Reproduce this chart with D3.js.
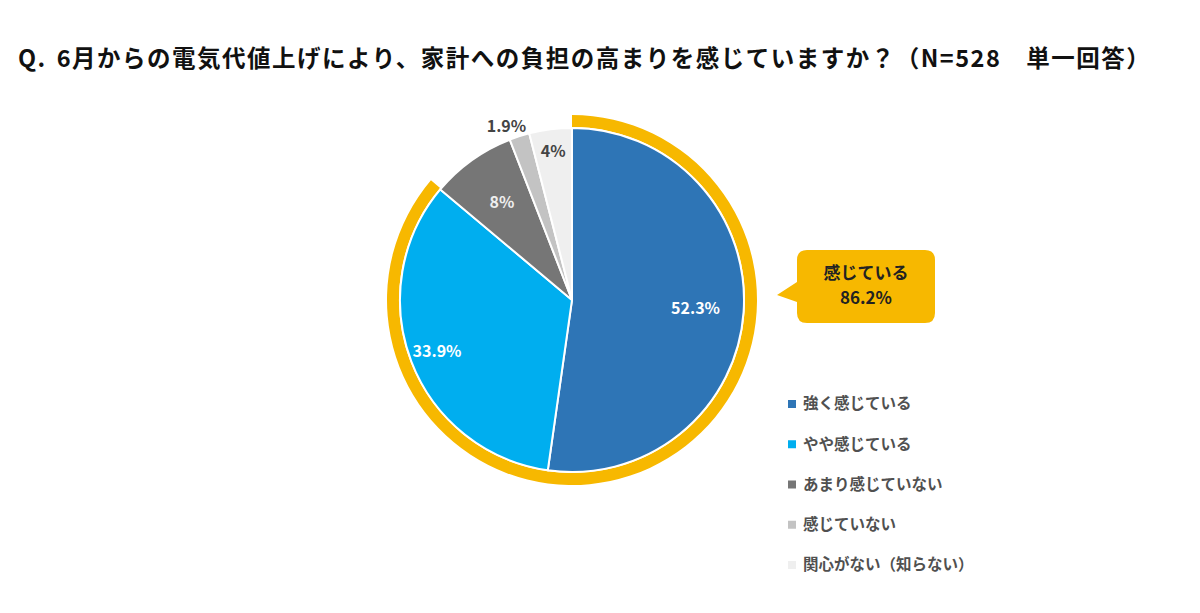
<!DOCTYPE html>
<html>
<head>
<meta charset="utf-8">
<title>電気代値上げアンケート</title>
<script src="https://d3js.org/d3.v7.min.js"></script>
<style>
  body { margin: 0; background: #fff; }
  svg text { font-family: "Noto Sans CJK JP", "Noto Sans", sans-serif; }
</style>
</head>
<body>
<svg id="chart" width="1200" height="613"></svg>
<script>
// データ
const categories = ["強く感じている", "やや感じている", "あまり感じていない", "感じていない", "関心がない（知らない）"];
const values = [52.3, 33.9, 8, 1.9, 4];
const labels = ["52.3%", "33.9%", "8%", "1.9%", "4%"];
const colors = ["#2e75b6", "#00aeef", "#767676", "#c3c3c3", "#efefef"];
const feelTotal = 86.2;

const svg = d3.select("#chart");

// タイトル
const title = svg.append("text")
  .attr("x", 18).attr("y", 67)
  .attr("font-size", 23.5).attr("font-weight", 700).attr("fill", "#111")
  .attr("letter-spacing", 1.5);
title.append("tspan").text("Q.");
title.append("tspan").attr("dx", 10)
  .text("6月からの電気代値上げにより、家計への負担の高まりを感じていますか？（N=528　単一回答）");

const cx = 572, cy = 300, r = 172;
const g = svg.append("g").attr("transform", `translate(${cx},${cy})`);

const pie = d3.pie().sort(null).value(d => d);
const arcs = pie(values);
const arc = d3.arc().innerRadius(0).outerRadius(r);

// 「感じている」の外周リング
const ringEnd = 2 * Math.PI * feelTotal / 100;
g.append("path")
  .attr("d", d3.arc().innerRadius(r + 1).outerRadius(r + 13).startAngle(0).endAngle(ringEnd)())
  .attr("fill", "#f7b800");

g.selectAll("path.slice")
  .data(arcs)
  .enter().append("path")
  .attr("class", "slice")
  .attr("d", arc)
  .attr("fill", (d, i) => colors[i])
  .attr("stroke", "#fff")
  .attr("stroke-width", 2);

// ラベル位置（半径の比率）
const labelR = [0.72, 0.84, 0.7, 1.08, 0.87];
const labelColor = ["#fff", "#fff", "#eee", "#444", "#444"];
g.selectAll("text.lbl")
  .data(arcs)
  .enter().append("text")
  .attr("class", "lbl")
  .attr("transform", (d, i) => {
    const a = (d.startAngle + d.endAngle) / 2 - (i === 3 ? 0.05 : 0);
    const rr = r * labelR[i];
    return `translate(${Math.sin(a) * rr},${-Math.cos(a) * rr})`;
  })
  .attr("text-anchor", "middle").attr("dy", "0.35em")
  .attr("font-size", 16).attr("font-weight", 700)
  .attr("fill", (d, i) => labelColor[i])
  .text((d, i) => labels[i]);

// 吹き出し
const bx = 797, by = 250, bw = 138, bh = 73;
svg.append("path")
  .attr("d", `M${bx + 10},${by} H${bx + bw - 10} Q${bx + bw},${by} ${bx + bw},${by + 10} V${by + bh - 10} Q${bx + bw},${by + bh} ${bx + bw - 10},${by + bh} H${bx + 10} Q${bx},${by + bh} ${bx},${by + bh - 10} V${by + 52} L${bx - 20},${by + 45} L${bx},${by + 32} V${by + 10} Q${bx},${by} ${bx + 10},${by} Z`)
  .attr("fill", "#f7b800");
svg.append("text")
  .attr("x", bx + bw / 2).attr("y", by + 29)
  .attr("text-anchor", "middle").attr("font-size", 17).attr("font-weight", 700).attr("fill", "#222")
  .text("感じている");
svg.append("text")
  .attr("x", bx + bw / 2).attr("y", by + 54)
  .attr("text-anchor", "middle").attr("font-size", 17).attr("font-weight", 700).attr("fill", "#222")
  .text(feelTotal + "%");

// 凡例
const ly = d3.scalePoint().domain(categories).range([404, 565]);
const legend = svg.append("g").selectAll("g")
  .data(categories)
  .enter().append("g")
  .attr("transform", d => `translate(788,${ly(d)})`);
legend.append("rect")
  .attr("x", 0).attr("y", -4).attr("width", 8).attr("height", 8)
  .attr("fill", (d, i) => colors[i]);
legend.append("text")
  .attr("x", 15).attr("dy", "0.35em")
  .attr("font-size", 15.5).attr("font-weight", 700).attr("fill", "#505050")
  .text(d => d);
</script>
</body>
</html>
